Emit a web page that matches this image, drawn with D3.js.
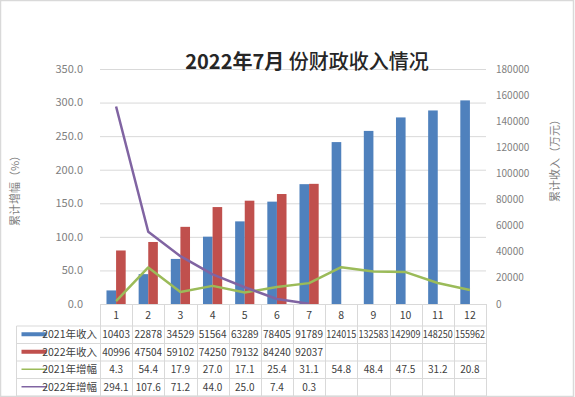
<!DOCTYPE html>
<html><head><meta charset="utf-8">
<script src="https://cdn.jsdelivr.net/npm/d3@7"></script>
<style>
html,body{margin:0;padding:0;background:#fff;}
svg{display:block;font-family:"Noto Sans CJK SC","Noto Sans",sans-serif;}
</style></head>
<body>
<svg id="c" width="575" height="397"></svg>
<script>
const months = ["1","2","3","4","5","6","7","8","9","10","11","12"];
const income2021 = [10403,22878,34529,51564,63289,78405,91789,124015,132583,142909,148250,155962];
const income2022 = [40996,47504,59102,74250,79132,84240,92037];
const growth2021 = [4.3,54.4,17.9,27.0,17.1,25.4,31.1,54.8,48.4,47.5,31.2,20.8];
const growth2022 = [294.1,107.6,71.2,44.0,25.0,7.4,0.3];
const leftTicks = [0,50,100,150,200,250,300,350];
const rightTicks = [0,20000,40000,60000,80000,100000,120000,140000,160000,180000];
const seriesNames = ["2021年收入","2022年收入","2021年增幅","2022年增幅"];
const colors = {b21:"#4F81BD", b22:"#C0504D", g21:"#9BBB59", g22:"#8064A2"};

const svg = d3.select("#c");
// frame
svg.append("rect").attr("x",0.5).attr("y",0.5).attr("width",573).attr("height",396)
  .attr("fill","#fff").attr("stroke","#d9d9d9").attr("stroke-width",1.5);

const x = d3.scaleBand().domain(months).range([100,486]);
const bw = x.bandwidth();
const yL = d3.scaleLinear().domain([0,350]).range([304,69]);
const yR = d3.scaleLinear().domain([0,180000]).range([304,69]);
const xSub = d3.scaleBand().domain(["2021","2022"]).range([bw/2-9.6, bw/2+9.6]);

// gridlines
svg.append("g").selectAll("line").data(leftTicks.slice(1)).join("line")
  .attr("x1",100).attr("x2",486).attr("y1",d=>yL(d)+0.5).attr("y2",d=>yL(d)+0.5)
  .attr("stroke","#d9d9d9").attr("stroke-width",1);

// left axis labels
svg.append("g").selectAll("text").data(leftTicks).join("text")
  .attr("x",83).attr("y",d=>yL(d)).attr("dy","0.35em").attr("text-anchor","end")
  .attr("font-size",11).attr("fill","#7f7f7f").text(d=>d.toFixed(1));
// right axis labels
svg.append("g").selectAll("text").data(rightTicks).join("text")
  .attr("x",496).attr("y",d=>yR(d)).attr("dy","0.35em").attr("text-anchor","start")
  .attr("font-size",10).attr("fill","#7f7f7f").text(d=>d);

// axis titles
svg.append("text").attr("transform","translate(19,188) rotate(-90)").attr("text-anchor","middle")
  .attr("font-size",11).attr("fill","#7f7f7f").text("累计增幅（%）");
svg.append("text").attr("transform","translate(559,158) rotate(-90)").attr("text-anchor","middle")
  .attr("font-size",11).attr("fill","#7f7f7f").text("累计收入（万元）");

// title
const t = svg.append("text").attr("x",307).attr("y",69).attr("text-anchor","middle")
  .attr("font-size",20).attr("fill","#262626");
t.append("tspan").attr("font-weight","bold").text("2022年7月");
t.append("tspan").attr("font-weight","500").text(" 份财政收入情况");

// bars
svg.append("g").selectAll("rect").data(income2021).join("rect")
  .attr("x",(d,i)=>x(months[i])+xSub("2021")).attr("width",xSub.bandwidth())
  .attr("y",d=>yR(d)).attr("height",d=>yR(0)-yR(d)).attr("fill",colors.b21);
svg.append("g").selectAll("rect").data(income2022).join("rect")
  .attr("x",(d,i)=>x(months[i])+xSub("2022")).attr("width",xSub.bandwidth())
  .attr("y",d=>yR(d)).attr("height",d=>yR(0)-yR(d)).attr("fill",colors.b22);

// lines
const line = d3.line().x((d,i)=>x(months[i])+bw/2).y(d=>yL(d));
svg.append("path").datum(growth2021).attr("d",line).attr("fill","none")
  .attr("stroke",colors.g21).attr("stroke-width",2.5).attr("stroke-linejoin","round");
svg.append("path").datum(growth2022).attr("d",line).attr("fill","none")
  .attr("stroke",colors.g22).attr("stroke-width",2.5).attr("stroke-linejoin","round");

// data table
const tg = svg.append("g");
const rowTop = [326,343.5,361,378.5];
const rowH = 17.5;
const lc = "#d9d9d9";
// axis baseline / table top
tg.append("line").attr("x1",100).attr("x2",486.5).attr("y1",304.5).attr("y2",304.5).attr("stroke",lc);
// horizontal row lines
[326,343.5,361,378.5,396].forEach(yy=>{
  tg.append("line").attr("x1",16.5).attr("x2",486.5).attr("y1",yy).attr("y2",yy).attr("stroke",lc);
});
// vertical lines
tg.append("line").attr("x1",16.5).attr("x2",16.5).attr("y1",326).attr("y2",396).attr("stroke",lc);
months.concat(["end"]).forEach((m,i)=>{
  const xx = (m==="end") ? 486.5 : Math.round(x(m))+0.5;
  tg.append("line").attr("x1",xx).attr("x2",xx).attr("y1",304).attr("y2",396).attr("stroke",lc);
});
// header
tg.selectAll("text.h").data(months).join("text").attr("class","h")
  .attr("x",d=>x(d)+bw/2).attr("y",315).attr("dy","0.35em").attr("text-anchor","middle")
  .attr("font-size",10.5).attr("fill","#404040").text(d=>d);
// legend keys and names
const keyStyle = [
  {type:"rect",c:colors.b21},{type:"rect",c:colors.b22},
  {type:"line",c:colors.g21},{type:"line",c:colors.g22}];
seriesNames.forEach((n,r)=>{
  const cy = rowTop[r]+rowH/2;
  if(keyStyle[r].type==="rect"){
    tg.append("rect").attr("x",21.5).attr("y",cy-2.5).attr("width",25).attr("height",4).attr("fill",keyStyle[r].c);
  } else {
    tg.append("line").attr("x1",21.5).attr("x2",47).attr("y1",cy-0.5).attr("y2",cy-0.5)
      .attr("stroke",keyStyle[r].c).attr("stroke-width",1.5);
  }
  tg.append("text").attr("x",97).attr("y",cy).attr("dy","0.35em").attr("text-anchor","end")
    .attr("font-size",10.5).attr("fill","#404040").text(n);
});
const rows = [
  income2021.map(String), income2022.map(String),
  growth2021.map(d=>d.toFixed(1)), growth2022.map(d=>d.toFixed(1))];
rows.forEach((vals,r)=>{
  tg.selectAll("text.r"+r).data(vals).join("text").attr("class","r"+r)
    .attr("x",(d,i)=>x(months[i])+bw/2).attr("y",rowTop[r]+rowH/2).attr("dy","0.35em")
    .attr("text-anchor","middle").attr("font-size",10).attr("fill","#404040")
    .attr("textLength",(d)=>d.length>=6?30:null).attr("lengthAdjust","spacingAndGlyphs")
    .text(d=>d);
});
</script>
</body></html>
